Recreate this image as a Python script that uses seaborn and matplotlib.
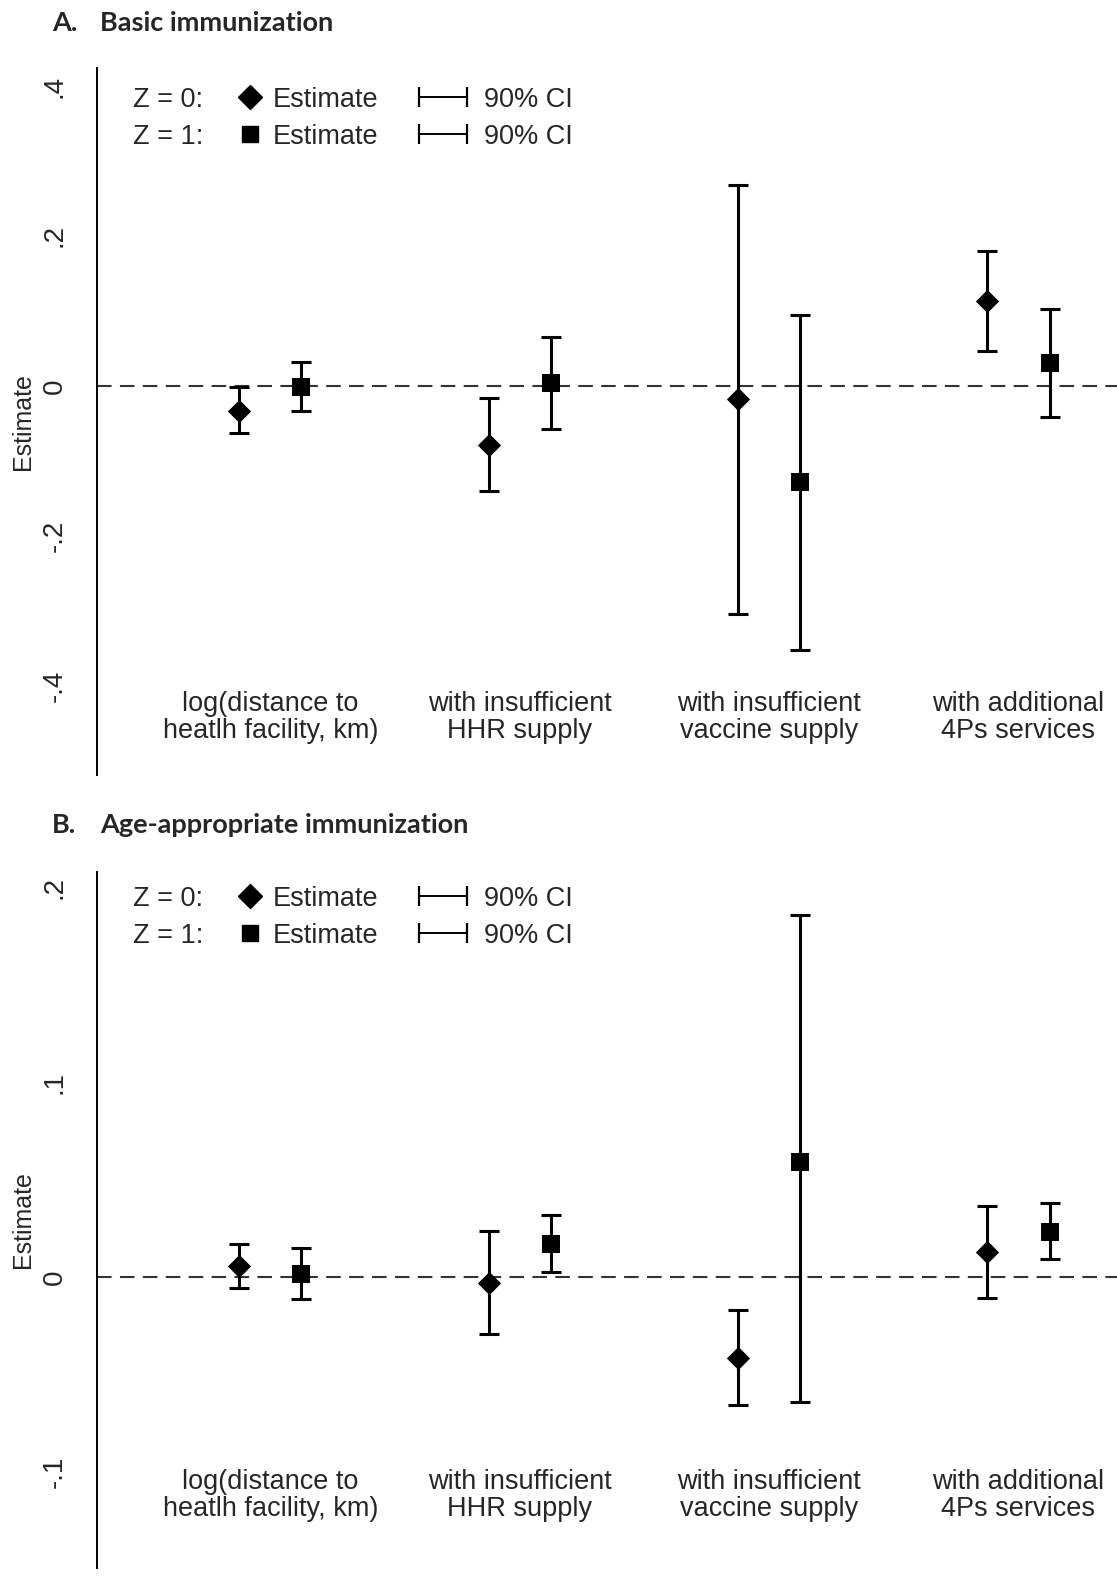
import seaborn as sns
import pandas as pd
import matplotlib.pyplot as plt

sns.set_style('white')
plt.rcParams['font.family'] = ['Liberation Sans', 'DejaVu Sans']

categories = ['log(distance to\nheatlh facility, km)', 'with insufficient\nHHR supply',
              'with insufficient\nvaccine supply', 'with additional\n4Ps services']

# panel A: basic immunization
a_est_z0 = [-0.033, -0.0785, -0.0177, 0.113]
a_lo_z0 = [-0.063, -0.140, -0.304, 0.046]
a_hi_z0 = [-0.002, -0.016, 0.268, 0.180]
a_est_z1 = [-0.001, 0.0044, -0.1286, 0.031]
a_lo_z1 = [-0.033, -0.057, -0.352, -0.0416]
a_hi_z1 = [0.032, 0.0655, 0.0944, 0.103]
a_ticks = [-0.4, -0.2, 0, 0.2, 0.4]
a_ticklabels = ['-.4', '-.2', '0', '.2', '.4']

# panel B: age-appropriate immunization
b_est_z0 = [0.0056, -0.0029, -0.0414, 0.0127]
b_lo_z0 = [-0.0055, -0.0294, -0.0658, -0.0109]
b_hi_z0 = [0.0171, 0.0237, -0.0169, 0.0363]
b_est_z1 = [0.0017, 0.0169, 0.0591, 0.0232]
b_lo_z1 = [-0.0111, 0.0027, -0.0643, 0.0094]
b_hi_z1 = [0.0149, 0.0318, 0.1856, 0.0378]
b_ticks = [-0.1, 0, 0.1, 0.2]
b_ticklabels = ['-.1', '0', '.1', '.2']


def make_df(est0, lo0, hi0, est1, lo1, hi1):
    rows = []
    for i in range(len(categories)):
        rows.append({'grp': i + 1, 'z': '0', 'est': est0[i], 'lo': lo0[i], 'hi': hi0[i]})
        rows.append({'grp': i + 1, 'z': '1', 'est': est1[i], 'lo': lo1[i], 'hi': hi1[i]})
    df = pd.DataFrame(rows)
    df['x'] = df['grp'] + df['z'].map({'0': -0.125, '1': 0.125})
    return df


W, H = 1117, 1578
fig = plt.figure(figsize=(W / 100, H / 100), dpi=100)

panels = [
    dict(title_letter='A.', title='Basic immunization', title_y=23,
         df=make_df(a_est_z0, a_lo_z0, a_hi_z0, a_est_z1, a_lo_z1, a_hi_z1),
         top=68, bottom=775, ylim=(-0.5187, 0.424), ticks=a_ticks, ticklabels=a_ticklabels,
         label_y=-0.442, leg_rows=(97, 134)),
    dict(title_letter='B.', title='Age-appropriate immunization', title_y=825,
         df=make_df(b_est_z0, b_lo_z0, b_hi_z0, b_est_z1, b_lo_z1, b_hi_z1),
         top=872, bottom=1568, ylim=(-0.1492, 0.2077), ticks=b_ticks, ticklabels=b_ticklabels,
         label_y=-0.112, leg_rows=(896, 933)),
]

left_px = 97
fs = 19.5
for p in panels:
    ax = fig.add_axes([left_px / W, 1 - p['bottom'] / H, (W - left_px) / W, (p['bottom'] - p['top']) / H])
    df = p['df']

    ax.axhline(0, color='#333333', lw=1.5, dashes=(7, 4), zorder=1)
    for z in ['0', '1']:
        d = df[df['z'] == z]
        ax.errorbar(d['x'], d['est'], yerr=[d['est'] - d['lo'], d['hi'] - d['est']],
                    fmt='none', ecolor='black', elinewidth=2.2, capsize=7.5, capthick=2.2, zorder=2)
    sns.scatterplot(data=df[df['z'] == '0'], x='x', y='est', marker='D', s=140,
                    color='black', edgecolor='black', linewidth=0, ax=ax, zorder=3, legend=False)
    sns.scatterplot(data=df[df['z'] == '1'], x='x', y='est', marker='s', s=160,
                    color='black', edgecolor='black', linewidth=0, ax=ax, zorder=3, legend=False)

    for i, lab in enumerate(categories):
        ax.text(i + 1, p['label_y'], lab, ha='center', va='center', fontsize=fs, linespacing=1.02)

    ax.set_xlim(0.305, 4.395)
    ax.set_ylim(*p['ylim'])
    ax.set_xticks([])
    ax.set_yticks(p['ticks'])
    ax.set_yticklabels(p['ticklabels'], rotation=90, va='center', fontsize=20)
    ax.tick_params(axis='y', length=0, pad=21)
    ax.set_xlabel('')
    ax.set_ylabel('Estimate', fontsize=18, labelpad=5)
    for s in ['top', 'right', 'bottom']:
        ax.spines[s].set_visible(False)
    ax.spines['left'].set_linewidth(1.4)
    ax.spines['left'].set_color('black')
    ax.patch.set_alpha(0)

    # legend
    hpx = p['bottom'] - p['top']
    fx = lambda px: (px - left_px) / (W - left_px)
    for zlab, mk, ms, ypx in [('Z = 0:', 'D', 12, p['leg_rows'][0]), ('Z = 1:', 's', 11.5, p['leg_rows'][1])]:
        yf = (p['bottom'] - ypx) / hpx
        ax.text(fx(133), yf, zlab, transform=ax.transAxes, fontsize=fs, va='center_baseline')
        ax.plot([fx(250)], [yf], marker=mk, ms=ms, color='black', ls='none',
                transform=ax.transAxes, clip_on=False)
        ax.text(fx(273), yf, 'Estimate', transform=ax.transAxes, fontsize=fs, va='center_baseline')
        ax.plot([fx(419), fx(467)], [yf, yf], color='black', lw=1.4, marker='|', ms=14, mew=1.6,
                transform=ax.transAxes, clip_on=False)
        ax.text(fx(484), yf, '90% CI', transform=ax.transAxes, fontsize=fs, va='center_baseline')

    fig.text(52 / W, 1 - p['title_y'] / H, p['title_letter'], fontsize=19.5, fontweight='bold',
             family=['Lato', 'DejaVu Sans'], va='center')
    fig.text(100 / W, 1 - p['title_y'] / H, p['title'], fontsize=19.5, fontweight='bold',
             family=['Lato', 'DejaVu Sans'], va='center')

fig.savefig('out.png', dpi=100)
